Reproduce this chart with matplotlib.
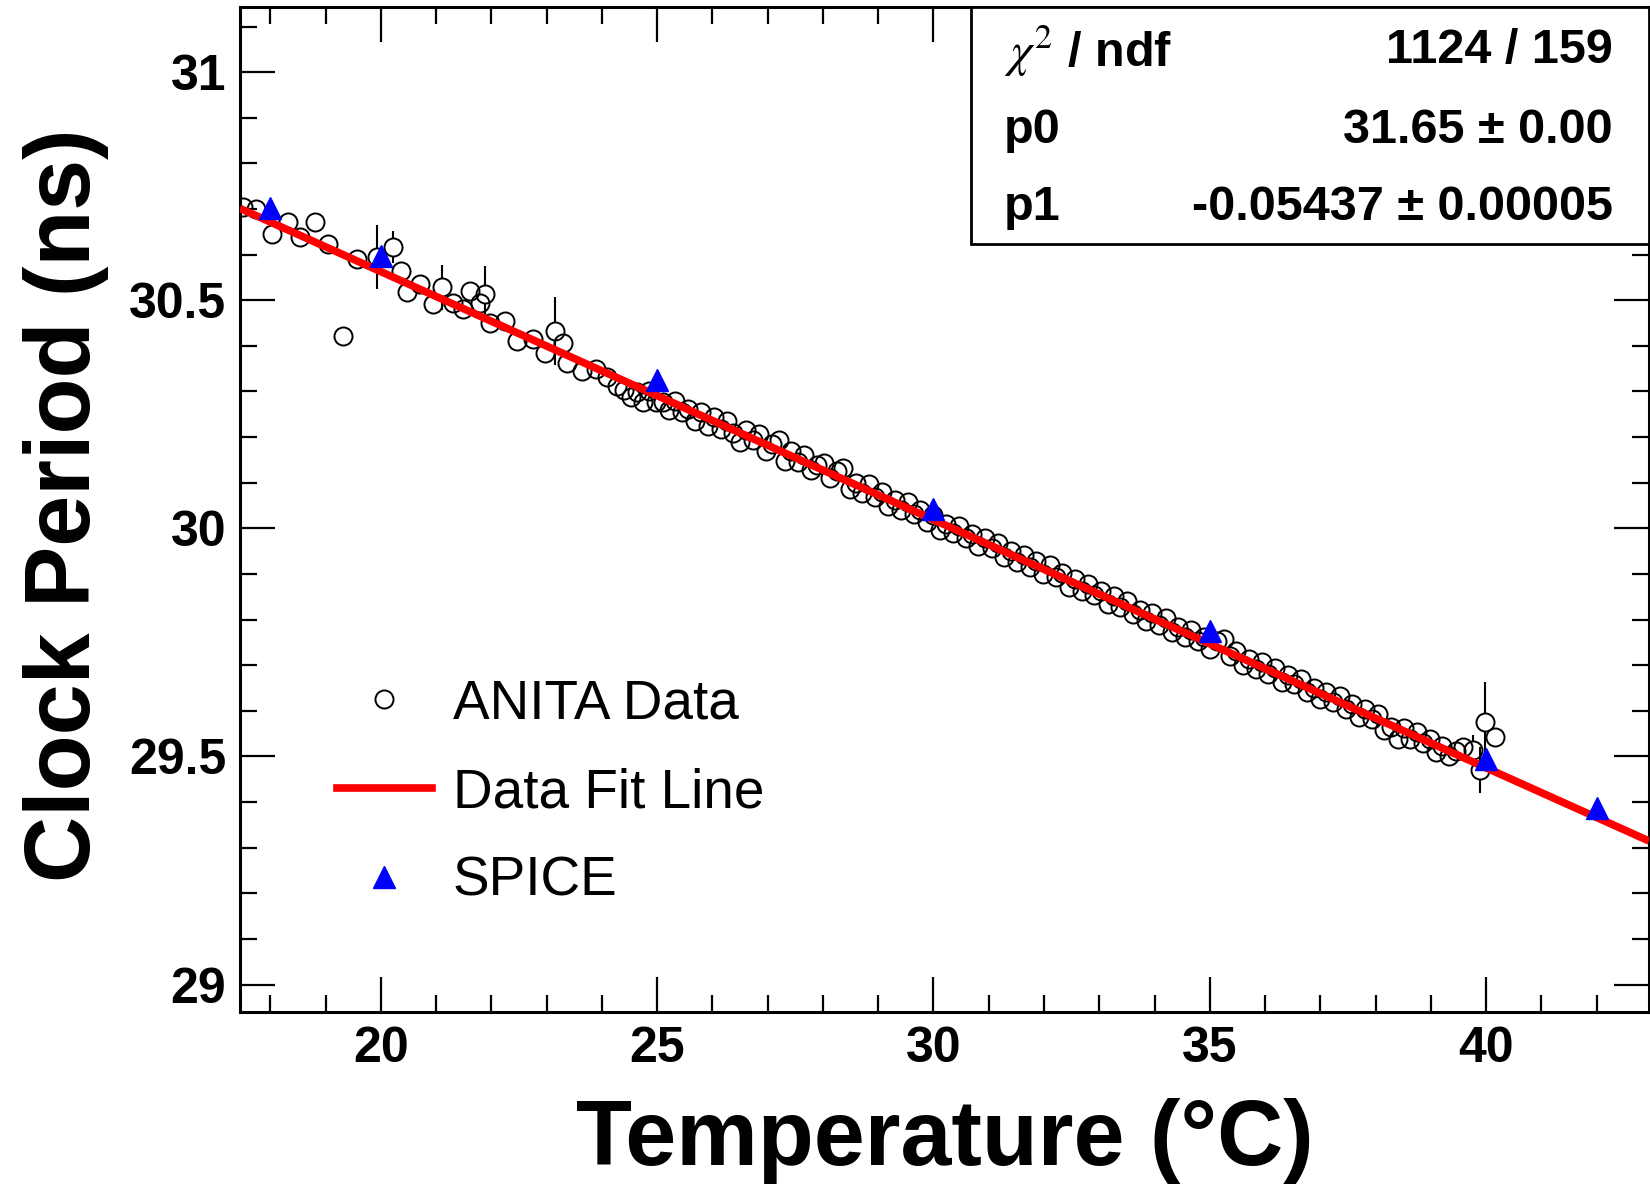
import numpy as np
import matplotlib
matplotlib.use("Agg")
import matplotlib.pyplot as plt
from matplotlib.lines import Line2D
from matplotlib.patches import Rectangle

plt.rcParams['font.family'] = ['Liberation Sans', 'DejaVu Sans']
plt.rcParams['mathtext.fontset'] = 'stix'

# ANITA data: temperature (C), clock period (ns)
temp = [17.51, 17.74, 18.02, 18.32, 18.53, 18.81, 19.05, 19.32, 19.56, 19.92,
        20.22, 20.37, 20.47, 20.71, 20.95, 21.10, 21.31, 21.49, 21.61, 21.79,
        21.88, 21.97, 22.24, 22.46, 22.76, 22.97, 23.15, 23.30, 23.36, 23.63,
        23.90, 24.09, 24.27,
        24.40, 24.52, 24.63, 24.75, 24.86, 24.98, 25.10, 25.21, 25.33, 25.45,
        25.56, 25.68, 25.80, 25.91, 26.03, 26.15, 26.26, 26.38, 26.50, 26.61,
        26.73, 26.85, 26.96, 27.08, 27.20, 27.31, 27.43, 27.55, 27.66, 27.78,
        27.90, 28.01, 28.13, 28.25, 28.36, 28.48, 28.60, 28.71, 28.83, 28.95,
        29.06, 29.18, 29.30, 29.41, 29.53, 29.65, 29.76, 29.88, 30.00, 30.11,
        30.23, 30.35, 30.46, 30.58, 30.70, 30.81, 30.93, 31.05, 31.16, 31.28,
        31.40, 31.51, 31.63, 31.75, 31.86, 31.98, 32.10, 32.21, 32.33, 32.45,
        32.56, 32.68, 32.80, 32.91, 33.03, 33.15, 33.26, 33.38, 33.50, 33.61,
        33.73, 33.85, 33.96, 34.08, 34.20, 34.31, 34.43, 34.55, 34.66, 34.78,
        34.90, 35.01, 35.13, 35.25, 35.36, 35.48, 35.60, 35.71, 35.83, 35.95,
        36.06, 36.18, 36.30, 36.41, 36.53, 36.65, 36.76, 36.88, 37.00, 37.11,
        37.23, 37.35, 37.46, 37.58, 37.70, 37.81, 37.93, 38.05, 38.16, 38.28,
        38.40, 38.51, 38.63, 38.75, 38.86, 38.98, 39.10, 39.21, 39.33, 39.45,
        39.59, 39.77, 39.89, 39.99, 40.17]
period = [30.704, 30.699, 30.645, 30.671, 30.638, 30.671, 30.623, 30.422, 30.590, 30.594,
          30.616, 30.565, 30.517, 30.536, 30.492, 30.528, 30.495, 30.481, 30.521, 30.495,
          30.514, 30.451, 30.455, 30.411, 30.415, 30.385, 30.433, 30.407, 30.363, 30.345,
          30.349, 30.331, 30.312,
          30.303, 30.287, 30.299, 30.278, 30.302, 30.277, 30.277, 30.259, 30.279, 30.254,
          30.262, 30.236, 30.255, 30.225, 30.245, 30.218, 30.236, 30.210, 30.189, 30.215,
          30.193, 30.206, 30.170, 30.186, 30.193, 30.147, 30.169, 30.146, 30.160, 30.128,
          30.139, 30.143, 30.111, 30.126, 30.132, 30.086, 30.099, 30.077, 30.097, 30.068,
          30.080, 30.050, 30.063, 30.041, 30.057, 30.032, 30.040, 30.013, 30.029, 29.997,
          30.010, 29.990, 30.006, 29.979, 29.987, 29.961, 29.978, 29.956, 29.968, 29.937,
          29.951, 29.927, 29.942, 29.916, 29.928, 29.899, 29.919, 29.893, 29.902, 29.872,
          29.888, 29.863, 29.879, 29.855, 29.862, 29.834, 29.852, 29.827, 29.841, 29.813,
          29.822, 29.796, 29.814, 29.789, 29.803, 29.773, 29.784, 29.762, 29.778, 29.753,
          29.761, 29.735, 29.754, 29.758, 29.720, 29.731, 29.700, 29.714, 29.692, 29.707,
          29.681, 29.693, 29.664, 29.678, 29.658, 29.669, 29.641, 29.651, 29.626, 29.642,
          29.620, 29.633, 29.603, 29.615, 29.586, 29.604, 29.582, 29.593, 29.559, 29.565,
          29.538, 29.562, 29.538, 29.553, 29.529, 29.539, 29.510, 29.522, 29.502, 29.511,
          29.521, 29.514, 29.470, 29.576, 29.543]
# only a few points have errors larger than the marker
err_temp = [19.92, 20.22, 21.10, 21.88, 23.15, 39.77, 39.89, 39.99]
err_val = [0.070, 0.035, 0.050, 0.060, 0.075, 0.032, 0.050, 0.087]

# SPICE simulation
spice_temp = [18, 20, 25, 30, 35, 40, 42]
spice_period = [30.702, 30.598, 30.325, 30.043, 29.775, 29.495, 29.386]

# fit result
p0, p0_err = 31.65, 0.00
p1, p1_err = -0.05437, 0.00005
chi2, ndf = 1124, 159

xlim = (17.45, 42.95)
ylim = (28.94, 31.143)

fig = plt.figure(figsize=(16.5, 11.89), dpi=100)
ax = fig.add_axes([0.1455, 0.1489, 0.8539, 0.8453])
ax.set_xlim(*xlim)
ax.set_ylim(*ylim)

ms_circ = 13
ax.plot(temp, period, 'o', ms=ms_circ, mfc='none', mec='black', mew=1.4, zorder=2)

# error bars drawn outside the marker only (ROOT style)
px_per_unit = ax.transData.transform((0, 1))[1] - ax.transData.transform((0, 0))[1]
r = ms_circ / 2 * fig.dpi / 72 / px_per_unit
lookup = dict(zip(temp, period))
for t, e in zip(err_temp, err_val):
    y = lookup[t]
    if e > r:
        ax.vlines(t, y + r, y + e, color='black', lw=1.5, zorder=2)
        ax.vlines(t, y - e, y - r, color='black', lw=1.5, zorder=2)

fx = np.array(xlim)
ax.plot(fx, p0 + p1 * fx, color='red', lw=5.5, zorder=3, solid_capstyle='butt')
ax.plot(spice_temp, spice_period, '^', ms=16, color='blue', zorder=4, clip_on=False)

# axes styling
ax.set_xticks([20, 25, 30, 35, 40])
ax.set_xticks(np.arange(18, 43, 1), minor=True)
ax.set_yticks([29, 29.5, 30, 30.5, 31])
ax.set_yticklabels(['29', '29.5', '30', '30.5', '31'])
ax.set_yticks(np.arange(29.0, 31.15, 0.1), minor=True)
ax.tick_params(which='both', direction='in', top=True, right=True, width=1.6)
ax.tick_params(which='major', length=25, pad=10, labelsize=36)
ax.tick_params(which='minor', length=12.5)
for lab in ax.get_xticklabels() + ax.get_yticklabels():
    lab.set_fontweight('bold')
for sp in ax.spines.values():
    sp.set_linewidth(2.2)

ax.set_xlabel('Temperature (°C)', fontsize=66, fontweight='bold')
ax.xaxis.set_label_coords(0.5, -0.086)
ax.set_ylabel('Clock Period (ns)', fontsize=66, fontweight='bold')
ax.yaxis.set_label_coords(-0.093, 0.5045)

# legend
handles = [
    Line2D([], [], marker='o', ls='none', ms=13, mfc='none', mec='black', mew=1.4),
    Line2D([], [], color='red', lw=5.5),
    Line2D([], [], marker='^', ls='none', ms=16, color='blue'),
]
ax.legend(handles, ['ANITA Data', 'Data Fit Line', 'SPICE'], loc='upper left',
          bbox_to_anchor=(0.0688, 0.332), frameon=False, fontsize=39.5,
          handlelength=1.73, handletextpad=0.38, labelspacing=0.67,
          borderpad=0, borderaxespad=0)

# fit statistics box
ax.add_patch(Rectangle((0.5188, 0.7642), 0.4812, 0.2358, transform=ax.transAxes,
                       facecolor='white', edgecolor='black', lw=2, zorder=10, clip_on=False))
rows = [(r'$\chi^{2}$ / ndf', f'{chi2} / {ndf}'),
        ('p0', f'{p0:.2f} ± {p0_err:.2f}'),
        ('p1', f'{p1:.5f} ± {p1_err:.5f}')]
for (name, val), yy in zip(rows, [0.9562, 0.8766, 0.8000]):
    ax.text(0.5422, yy, name, transform=ax.transAxes, fontsize=35, fontweight='bold',
            ha='left', va='center', zorder=11)
    ax.text(0.9745, yy, val, transform=ax.transAxes, fontsize=35, fontweight='bold',
            ha='right', va='center', zorder=11)

fig.savefig('out.png', dpi=100)
